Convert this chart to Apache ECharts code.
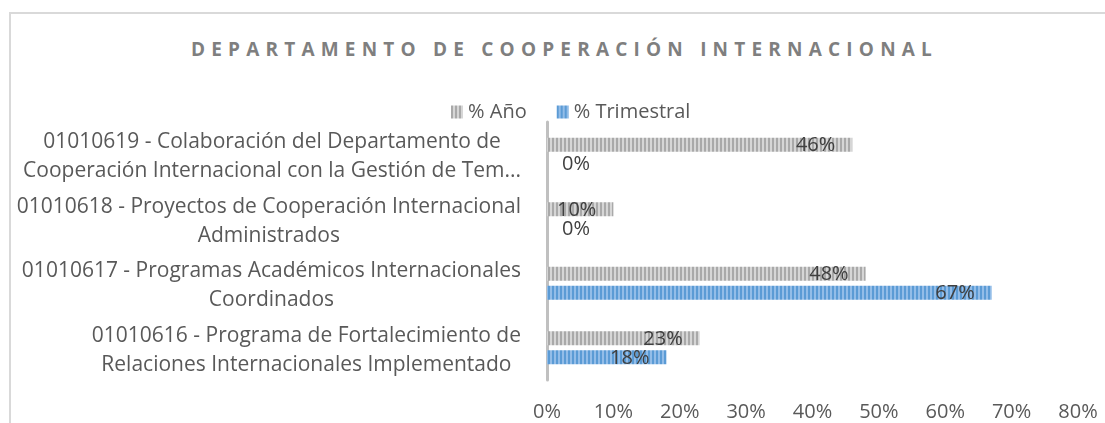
<!DOCTYPE html>
<html>
<head>
<meta charset="utf-8">
<script src="https://cdn.jsdelivr.net/npm/echarts@6/dist/echarts.min.js"></script>
<style>
  html, body { margin: 0; padding: 0; background: #fff; }
  #frame { position: absolute; left: 9px; top: 12px; width: 1100px; height: 420px; border-left: 2px solid #d9d9d9; border-top: 2px solid #d9d9d9; }
  #title { position: absolute; left: 12px; top: 40px; width: 1105px; line-height: 19px; text-align: center; font-family: "Open Sans", sans-serif; font-weight: bold; font-size: 19px; letter-spacing: 6.2px; color: #7f7f7f; white-space: nowrap; }
  #chart { position: absolute; left: 0; top: 0; width: 1105px; height: 423px; }
</style>
</head>
<body>
<div id="frame"></div>
<div id="title">DEPARTAMENTO DE COOPERACIÓN INTERNACIONAL</div>
<div id="chart"></div>
<script>
// Data (bottom-to-top category order, as in the source chart)
const categories = [
  '01010616 - Programa de Fortalecimiento de\nRelaciones Internacionales Implementado',
  '01010617 - Programas Académicos Internacionales\nCoordinados',
  '01010618 - Proyectos de Cooperación Internacional\nAdministrados',
  '01010619 - Colaboración del Departamento de\nCooperación Internacional con la Gestión de Tem...'
];
const seriesNames = ['% Año', '% Trimestral'];
const anio = [23, 48, 10, 46];
const trimestral = [18, 67, 0, 0];
const xTicks = [0, 10, 20, 30, 40, 50, 60, 70, 80];

function stripe(dark, light) {
  const c = document.createElement('canvas');
  c.width = 4; c.height = 4;
  const g = c.getContext('2d');
  g.fillStyle = light; g.fillRect(0, 0, 4, 4);
  g.fillStyle = dark; g.fillRect(0, 0, 2, 4);
  return { image: c, repeat: 'repeat' };
}
const grayPat = stripe('#a9a9a9', '#d6d6d6');
const bluePat = stripe('#5b9bd5', '#93bde8');

function labelled(values) {
  return values.map(v => v === 0
    ? { value: v, label: { position: 'right', distance: 15 } }
    : { value: v });
}

const chart = echarts.init(document.getElementById('chart'), null, { renderer: 'canvas' });
const font = '"Open Sans", sans-serif';
const valLabel = { show: true, position: 'insideRight', distance: 17, formatter: '{c}%', fontFamily: font, fontSize: 20, color: '#404040', offset: [0, 1] };
chart.setOption({
  animation: false,
  legend: {
    top: 97, left: 446,
    itemWidth: 12, itemHeight: 13, itemGap: 30,
    textStyle: { fontFamily: font, fontSize: 20, color: '#595959' },
    data: [
      { name: seriesNames[0], icon: 'rect', itemStyle: { color: grayPat } },
      { name: seriesNames[1], icon: 'rect', itemStyle: { color: bluePat } }
    ]
  },
  grid: { left: 547, right: 27, top: 122, bottom: 43, containLabel: false },
  xAxis: {
    type: 'value', min: xTicks[0], max: xTicks[xTicks.length - 1], interval: 10,
    axisLine: { show: false }, axisTick: { show: false }, splitLine: { show: false },
    axisLabel: { formatter: '{value}%', fontFamily: font, fontSize: 20, color: '#595959', margin: 22 }
  },
  yAxis: {
    type: 'category', data: categories,
    axisLine: { show: true, lineStyle: { color: '#c0c0c0', width: 3 } },
    axisTick: { show: false },
    axisLabel: {
      margin: 26, align: 'right',
      fontFamily: font, fontSize: 21, color: '#595959', lineHeight: 29,
      padding: [5, 0, 0, 0],
      formatter: function (v) {
        return v.split('\n').map(s => '{c|' + s + '}').join('\n');
      },
      rich: { c: { align: 'center', fontFamily: font, fontSize: 21, color: '#595959', lineHeight: 29 } }
    }
  },
  series: [
    {
      name: seriesNames[0], type: 'bar', data: labelled(anio),
      barWidth: 14, barGap: '36%',
      itemStyle: { color: grayPat },
      label: valLabel
    },
    {
      name: seriesNames[1], type: 'bar', data: labelled(trimestral),
      barWidth: 14,
      itemStyle: { color: bluePat },
      label: valLabel
    }
  ]
});
</script>
</body>
</html>
